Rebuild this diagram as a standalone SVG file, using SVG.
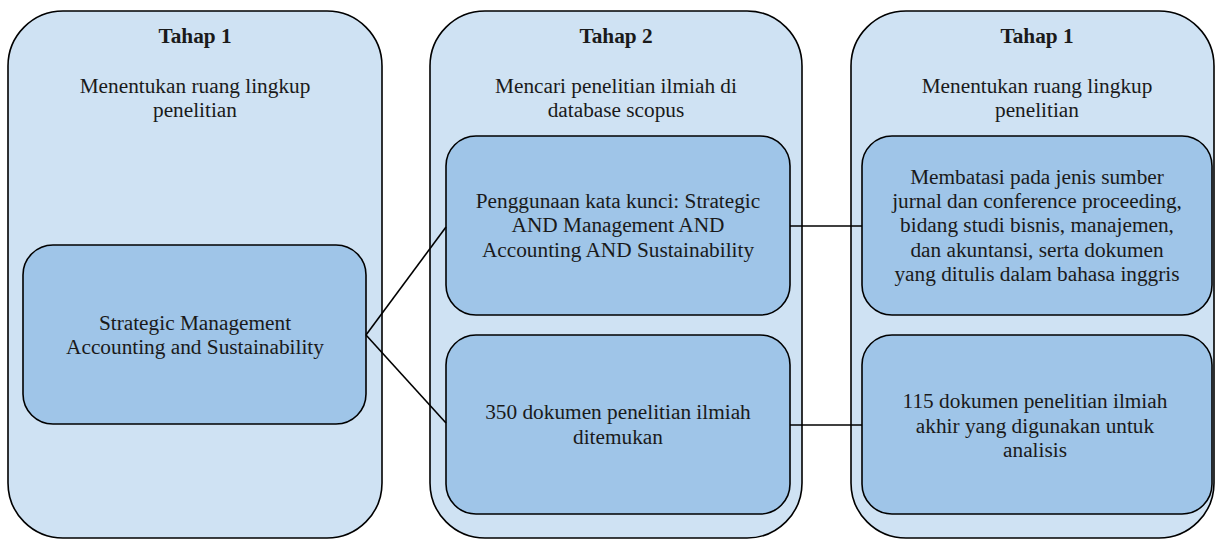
<svg xmlns="http://www.w3.org/2000/svg" width="1215" height="539" viewBox="0 0 1215 539">
<style>
.outer{fill:#cfe2f3;stroke:#000;stroke-width:1.6}
.inner{fill:#9fc5e8;stroke:#000;stroke-width:1.6}
text{font-family:"Liberation Serif","Times New Roman",serif;font-size:21.3px;fill:#1a1a1a;text-anchor:middle}
.title{font-weight:bold}
.conn{stroke:#000;stroke-width:1.6;fill:none}
</style>
<rect width="1215" height="539" fill="#fff"/>
<g id="stage1">
<rect class="outer" x="8" y="11" width="374" height="527" rx="55" ry="55"/>
<text class="title" x="195" y="43">Tahap 1</text>
<text x="195" y="93">Menentukan ruang lingkup</text>
<text x="195" y="117">penelitian</text>
</g>
<g id="stage2">
<rect class="outer" x="430" y="11" width="372" height="527" rx="55" ry="55"/>
<text class="title" x="616" y="43">Tahap 2</text>
<text x="616" y="93">Mencari penelitian ilmiah di</text>
<text x="616" y="117">database scopus</text>
</g>
<g id="stage3">
<rect class="outer" x="851" y="11" width="363" height="527" rx="55" ry="55"/>
<text class="title" x="1037" y="43">Tahap 1</text>
<text x="1037" y="93">Menentukan ruang lingkup</text>
<text x="1037" y="117">penelitian</text>
</g>
<g id="topic">
<rect class="inner" x="23" y="245" width="343" height="179" rx="30" ry="30"/>
<text x="195" y="330">Strategic Management</text>
<text x="195" y="354">Accounting and Sustainability</text>
</g>
<g id="keywords">
<rect class="inner" x="446" y="136" width="344" height="179" rx="30" ry="30"/>
<text x="618" y="208">Penggunaan kata kunci: Strategic</text>
<text x="618" y="232">AND Management AND</text>
<text x="618" y="257">Accounting AND Sustainability</text>
</g>
<g id="found">
<rect class="inner" x="446" y="335" width="344" height="179" rx="30" ry="30"/>
<text x="618" y="419">350 dokumen penelitian ilmiah</text>
<text x="618" y="444">ditemukan</text>
</g>
<g id="limits">
<rect class="inner" x="862" y="136" width="350" height="179" rx="30" ry="30"/>
<text x="1037" y="184">Membatasi pada jenis sumber</text>
<text x="1037" y="208">jurnal dan conference proceeding,</text>
<text x="1037" y="232">bidang studi bisnis, manajemen,</text>
<text x="1037" y="257">dan akuntansi, serta dokumen</text>
<text x="1037" y="281">yang ditulis dalam bahasa inggris</text>
</g>
<g id="final">
<rect class="inner" x="862" y="335" width="350" height="179" rx="30" ry="30"/>
<text x="1035" y="408">115 dokumen penelitian ilmiah</text>
<text x="1035" y="433">akhir yang digunakan untuk</text>
<text x="1035" y="457">analisis</text>
</g>
<g id="connectors">
<line class="conn" x1="366" y1="335" x2="446" y2="227"/>
<line class="conn" x1="366" y1="335" x2="446" y2="423"/>
<line class="conn" x1="790" y1="226" x2="862" y2="226"/>
<line class="conn" x1="790" y1="425" x2="862" y2="425"/>
</g>
</svg>
